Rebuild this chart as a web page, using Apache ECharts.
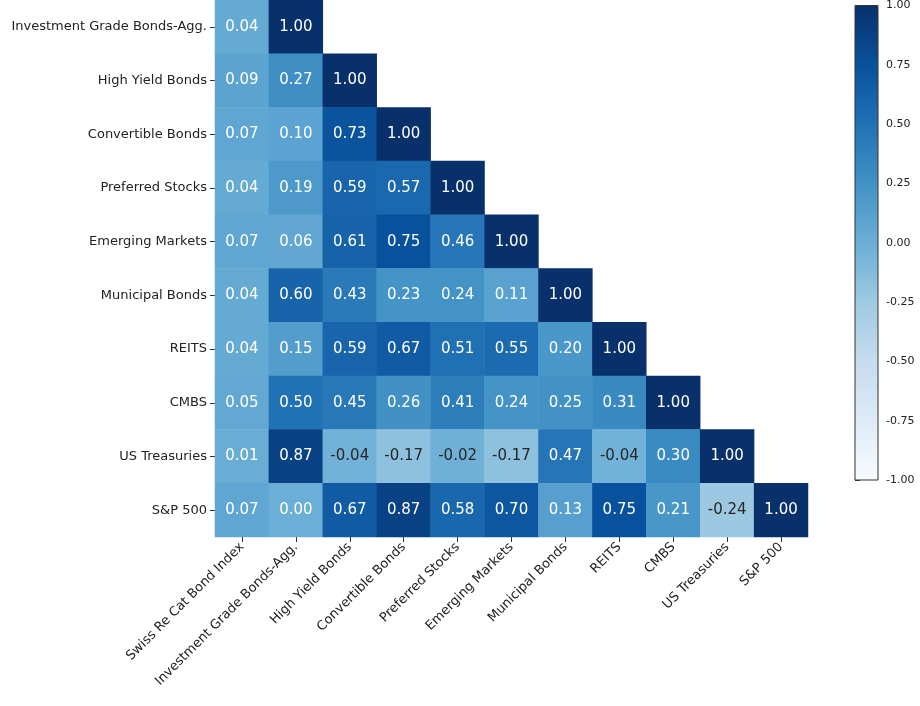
<!DOCTYPE html><html><head><meta charset="utf-8"><script src="https://cdn.jsdelivr.net/npm/echarts@6/dist/echarts.min.js"></script>
<style>html,body{margin:0;background:#fff}#c{width:920px;height:706px}</style></head><body><div id="c"></div><script>
const xCats=["Swiss Re Cat Bond Index","Investment Grade Bonds-Agg.","High Yield Bonds","Convertible Bonds","Preferred Stocks","Emerging Markets","Municipal Bonds","REITS","CMBS","US Treasuries","S&P 500"];
const yCats=["Investment Grade Bonds-Agg.","High Yield Bonds","Convertible Bonds","Preferred Stocks","Emerging Markets","Municipal Bonds","REITS","CMBS","US Treasuries","S&P 500"];
const rowValues=[
[0.04,1.00],
[0.09,0.27,1.00],
[0.07,0.10,0.73,1.00],
[0.04,0.19,0.59,0.57,1.00],
[0.07,0.06,0.61,0.75,0.46,1.00],
[0.04,0.60,0.43,0.23,0.24,0.11,1.00],
[0.04,0.15,0.59,0.67,0.51,0.55,0.20,1.00],
[0.05,0.50,0.45,0.26,0.41,0.24,0.25,0.31,1.00],
[0.01,0.87,-0.04,-0.17,-0.02,-0.17,0.47,-0.04,0.30,1.00],
[0.07,0.00,0.67,0.87,0.58,0.70,0.13,0.75,0.21,-0.24,1.00]];
const cbTicks=[-1,-0.75,-0.5,-0.25,0,0.25,0.5,0.75,1];
const data=[];
rowValues.forEach((r,i)=>r.forEach((v,j)=>data.push({value:[j,i,v],label:{color:v<0?'#262626':'#ffffff'}})));
const blues=['#f7fbff','#deebf7','#c6dbef','#9ecae1','#6baed6','#4292c6','#2171b5','#08519c','#08306b'];
const font="DejaVu Sans";
const ch=echarts.init(document.getElementById('c'));
ch.setOption({
 animation:false,
 textStyle:{fontFamily:font},
 grid:[{left:215,right:112,top:0,bottom:169},{left:855,width:23,top:5,height:475,show:true,borderColor:'#333',borderWidth:1,z:10}],
 xAxis:[{type:'category',data:xCats,gridIndex:0,axisTick:{show:true,alignWithLabel:true,length:5,lineStyle:{color:'#333'}},axisLine:{show:false},axisLabel:{rotate:45,interval:0,fontSize:13,color:'#222',margin:8},splitLine:{show:false}},
  {type:'value',gridIndex:1,show:false}],
 yAxis:[{type:'category',data:yCats,inverse:true,gridIndex:0,axisTick:{show:true,alignWithLabel:true,length:5,lineStyle:{color:'#333'}},axisLine:{show:false},axisLabel:{fontSize:13,color:'#222',margin:8}},
  {type:'value',gridIndex:1,min:-1,max:1,interval:0.25,position:'right',axisLine:{show:false},axisTick:{show:true,length:5,lineStyle:{color:'#333'}},splitLine:{show:false},axisLabel:{fontSize:11,color:'#222',formatter:v=>v.toFixed(2)}}],
 visualMap:[{type:'continuous',min:-1,max:1,seriesIndex:0,inRange:{color:blues},left:855,top:5,itemWidth:23,itemHeight:475,text:null,showLabel:false,calculable:false,hoverLink:false,textStyle:{fontSize:0},padding:0}],
 series:[{type:'heatmap',data:data,xAxisIndex:0,yAxisIndex:0,label:{show:true,fontSize:15,formatter:p=>p.value[2].toFixed(2)},itemStyle:{borderWidth:0}},
  {type:'scatter',xAxisIndex:1,yAxisIndex:1,data:[]}]
});
</script></body></html>
